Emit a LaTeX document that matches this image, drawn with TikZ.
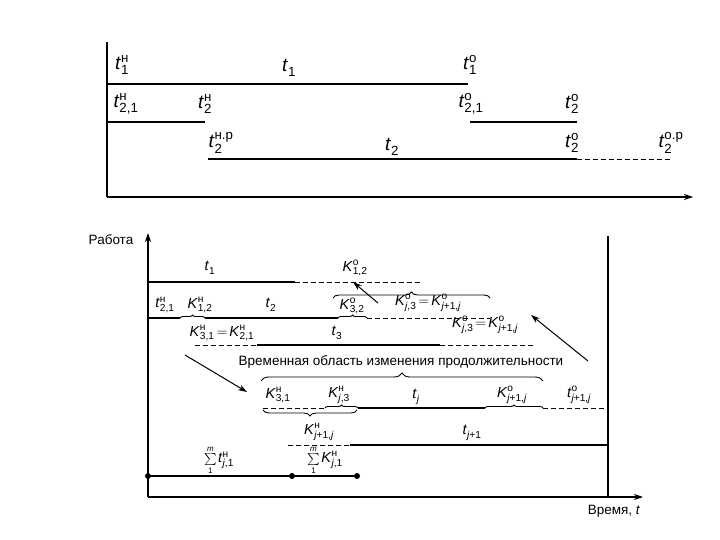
\documentclass[tikz,border=0pt]{standalone}
\usepackage{amsmath}
\usepackage{fontspec}
\setmainfont{Liberation Sans}
\usetikzlibrary{arrows.meta,decorations.pathreplacing}
\newcommand\Lab[3]{$\textit{#1\/}^{\text{#2}}_{#3}$}
\newcommand\Eq{\kern2pt$=$\kern2pt}
\newcommand\Sm{{\fontsize{12}{13}\selectfont$\sum\limits_{\text{1}}^{\textit{m}}$}\kern1.5pt}
\tikzset{
 thk/.style={line width=2.2pt},
 thn/.style={line width=1.1pt},
 dsh/.style={line width=0.9pt, dash pattern=on 5pt off 3pt},
 lbT/.style={inner sep=0pt, font=\fontsize{19}{21}\selectfont},
 lbB/.style={inner sep=0pt, font=\fontsize{14.5}{16}\selectfont},
 txt/.style={inner sep=0pt, font=\fontsize{13.5}{15}\selectfont},
 brc/.style={decorate, decoration={brace, amplitude=#1}, line width=0.9pt},
 brc/.default=3pt,
 brcm/.style={decorate, decoration={brace, mirror, amplitude=#1}, line width=0.9pt},
 brcm/.default=4pt,
 arr/.style={-{Stealth[length=9pt,width=6pt]}, line width=1pt},
 dotn/.style={circle, fill, inner sep=0pt, minimum size=6pt}
}
\begin{document}
\begin{tikzpicture}[x=1pt,y=-1pt]
\useasboundingbox (0,0) rectangle (720,540);
% ---------- top diagram ----------
\coordinate (Ta) at (107,42);
\coordinate (To) at (107,197);
\coordinate (Tx) at (693,197);
\draw[thn] (Ta) -- (To);
\draw[thn,-{Stealth[length=9pt,width=6pt]}] (To) -- (Tx);
\coordinate (r1a) at (107,84); \coordinate (r1b) at (468,84);
\draw[thk] (r1a) -- (r1b);
\coordinate (r2a) at (107,122); \coordinate (r2b) at (205,122);
\coordinate (r2c) at (470,122); \coordinate (r2d) at (577,122);
\draw[thn] (r2a) -- (r2b);
\draw[thn] (r2c) -- (r2d);
\coordinate (r3a) at (208,159); \coordinate (r3b) at (577,159); \coordinate (r3c) at (670,159);
\draw[thk] (r3a) -- (r3b);
\draw[dsh] (r3b) -- (r3c);
\node[lbT] (l1) at (122,65) {\Lab{t}{н}{\text{1}}};
\node[lbT] (l2) at (289,68) {\Lab{t}{}{\text{1}}};
\node[lbT] (l3) at (470,65) {\Lab{t}{о}{\text{1}}};
\node[lbT] (l4) at (126,104) {\Lab{t}{н}{\text{2,1}}};
\node[lbT] (l5) at (205,104) {\Lab{t}{н}{\text{2}}};
\node[lbT] (l6) at (471,104) {\Lab{t}{о}{\text{2,1}}};
\node[lbT] (l7) at (572,104) {\Lab{t}{о}{\text{2}}};
\node[lbT] (l8) at (221,143) {\Lab{t}{н.р}{\text{2}}};
\node[lbT] (l9) at (392,147) {\Lab{t}{}{\text{2}}};
\node[lbT] (l10) at (572,143) {\Lab{t}{о}{\text{2}}};
\node[lbT] (l11) at (671,143) {\Lab{t}{о.р}{\text{2}}};
% ---------- bottom diagram ----------
\coordinate (O) at (148,497);
\coordinate (Ya) at (148,233);
\coordinate (Xa) at (643,497);
\draw[thn,-{Stealth[length=9pt,width=6pt]}] (O) -- (Ya);
\draw[thn,-{Stealth[length=9pt,width=6pt]}] (O) -- (Xa);
\coordinate (Va) at (608,236); \coordinate (Vb) at (608,497);
\draw[thn] (Va) -- (Vb);
\node[txt] (rab) at (111,240) {Работа};
\node[txt] (vre) at (614,511) {Время, \textit{t}};
% row 1
\coordinate (a1) at (148,282); \coordinate (a2) at (295,282); \coordinate (a3) at (420,282);
\draw[thn] (a1) -- (a2);
\draw[dsh] (a2) -- (a3);
\node[lbB] (k1) at (210,268) {\Lab{t}{}{\text{1}}};
\node[lbB] (k2) at (355,268) {\Lab{K}{о}{\text{1,2}}};
% brace above row 2
\coordinate (b1) at (333,298); \coordinate (b2) at (490,298);
\draw[brc=6pt] (b1) -- (b2);
% row 2
\coordinate (c1) at (148,318); \coordinate (c2) at (180,318); \coordinate (c3) at (205,318);
\coordinate (c4) at (338,318); \coordinate (c5) at (367,318); \coordinate (c6) at (490,318);
\draw[thn] (c1) -- (c2);
\draw[brc] (c2) -- (c3);
\draw[thn] (c3) -- (c4);
\draw[brc] (c4) -- (c5);
\draw[dsh] (c5) -- (c6);
\node[lbB] (k3) at (165,305) {\Lab{t}{н}{\text{2,1}}};
\node[lbB] (k4) at (200,305) {\Lab{K}{н}{\text{1,2}}};
\node[lbB] (k5) at (271,305) {\Lab{t}{}{\text{2}}};
\node[lbB] (k6) at (352,306) {\Lab{K}{о}{\text{3,2}}};
\node[lbB] (k7) at (428,303) {\Lab{K}{о}{\textit{j}\text{,3}}\Eq\Lab{K}{о}{\textit{j}\text{+1,}\textit{j}}};
\draw[arr] (378,303) -- (353,282);
% row 3
\coordinate (d1) at (195,345); \coordinate (d2) at (257,345); \coordinate (d3) at (440,345); \coordinate (d4) at (533,345);
\draw[dsh] (d1) -- (d2);
\draw[thn] (d2) -- (d3);
\draw[dsh] (d3) -- (d4);
\node[lbB] (k8) at (222,333) {\Lab{K}{н}{\text{3,1}}\Eq\Lab{K}{н}{\text{2,1}}};
\node[lbB] (k9) at (337,333) {\Lab{t}{}{\text{3}}};
\node[lbB] (k10) at (485,325) {\Lab{K}{о}{\textit{j}\text{,3}}\Eq\Lab{K}{о}{\textit{j}\text{+1,}\textit{j}}};
% caption text and arrows
\node[txt] (cap) at (401,362) {Временная область изменения продолжительности};
\coordinate (p1) at (185,355); \coordinate (p2) at (247,392);
\draw[arr] (p1) -- (p2);
\coordinate (q1) at (588,361); \coordinate (q2) at (531,315);
\draw[arr] (q1) -- (q2);
\coordinate (e1) at (261,381); \coordinate (e2) at (543,381);
\draw[brc=8pt] (e1) -- (e2);
% row 4
\coordinate (f1) at (263,408); \coordinate (f2) at (325,408); \coordinate (f3) at (358,408);
\coordinate (f4) at (485,408); \coordinate (f5) at (543,408); \coordinate (f6) at (608,408);
\draw[dsh] (f1) -- (f2);
\draw[brc] (f2) -- (f3);
\draw[thn] (f3) -- (f4);
\draw[brc] (f4) -- (f5);
\draw[dsh] (f5) -- (f6);
\coordinate (g1) at (263,410); \coordinate (g2) at (357,410);
\draw[brcm=6pt] (g1) -- (g2);
\node[lbB] (k11) at (278,395) {\Lab{K}{н}{\text{3,1}}};
\node[lbB] (k12) at (339,395) {\Lab{K}{н}{\textit{j}\text{,3}}};
\node[lbB] (k13) at (416,397) {\Lab{t}{}{\textit{j}}};
\node[lbB] (k14) at (512,395) {\Lab{K}{о}{\textit{j}\text{+1,}\textit{j}}};
\node[lbB] (k15) at (579,395) {\Lab{t}{о}{\textit{j}\text{+1,}\textit{j}}};
% row 5
\coordinate (h1) at (288,445); \coordinate (h2) at (350,445); \coordinate (h3) at (608,445);
\draw[dsh] (h1) -- (h2);
\draw[thn] (h2) -- (h3);
\node[lbB] (k16) at (319,432) {\Lab{K}{н}{\textit{j}\text{+1,}\textit{j}}};
\node[lbB] (k17) at (472,433) {\Lab{t}{}{\textit{j}\text{+1}}};
% row 6
\node[dotn] (s1) at (148,476) {};
\node[dotn] (s2) at (292,476) {};
\node[dotn] (s3) at (357,476) {};
\draw[thn] (s1) -- (s2) -- (s3);
\node[lbB] (k18) at (219,460) {\Sm\Lab{t}{н}{\textit{j}\text{,1}}};
\node[lbB] (k19) at (325,460) {\Sm\Lab{K}{н}{\textit{j}\text{,1}}};
\end{tikzpicture}
\end{document}
